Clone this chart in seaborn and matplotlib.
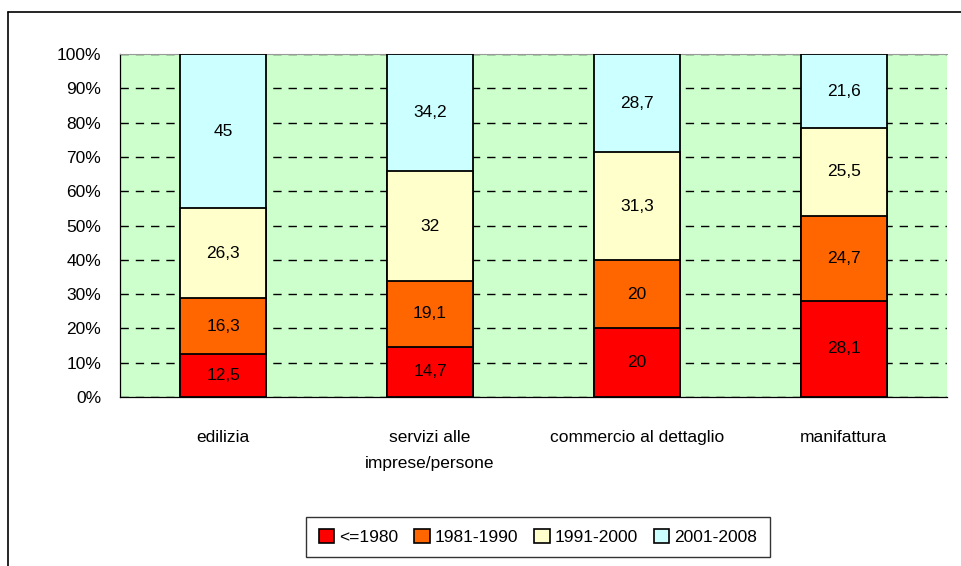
import numpy as np
import matplotlib
matplotlib.use("Agg")
import matplotlib.pyplot as plt
import seaborn as sns
import pandas as pd
from matplotlib.lines import Line2D
from matplotlib.patches import Patch

# Dati (quote per decennio di nascita dell'impresa)
settori = ["edilizia", "servizi alle\nimprese/persone", "commercio al dettaglio", "manifattura"]
periodi = ["<=1980", "1981-1990", "1991-2000", "2001-2008"]
v_1980 = [12.5, 14.7, 20, 28.1]
v_1990 = [16.3, 19.1, 20, 24.7]
v_2000 = [26.3, 32, 31.3, 25.5]
v_2008 = [45, 34.2, 28.7, 21.6]
colori = ["#FF0000", "#FF6600", "#FFFFCC", "#CCFFFF"]

sns.set_style("white")
plt.rcParams['font.family'] = ['Liberation Sans', 'DejaVu Sans']
plt.rcParams['text.color'] = 'black'
plt.rcParams['xtick.color'] = 'black'
plt.rcParams['ytick.color'] = 'black'

valori = np.array([v_1980, v_1990, v_2000, v_2008], dtype=float)
perc = valori / valori.sum(axis=0) * 100   # grafico in pila al 100%
cumul = perc.cumsum(axis=0)

fig = plt.figure(figsize=(9.62, 5.66), dpi=100)
ax = fig.add_axes([120 / 962, 1 - 397 / 566, 827 / 962, 343 / 566])
ax.set_facecolor("#CCFFCC")

# barre sovrapposte: dalla cumulata piu' alta alla piu' bassa
for i in range(len(periodi) - 1, -1, -1):
    df = pd.DataFrame({"settore": settori, "valore": cumul[i]})
    sns.barplot(data=df, x="settore", y="valore", color=colori[i],
                saturation=1, width=0.415, edgecolor="black", linewidth=1.3,
                ax=ax, zorder=3)

# etichette al centro dei segmenti
for i in range(len(periodi)):
    for j in range(len(settori)):
        base = cumul[i - 1][j] if i > 0 else 0
        testo = f"{valori[i][j]:g}".replace(".", ",")
        ax.text(j, base + perc[i][j] / 2, testo, ha="center", va="center",
                fontsize=12.5, color="black", zorder=5)

ax.set_xlim(-0.5, 3.5)
ax.set_ylim(0, 100)
ax.set_yticks(np.arange(0, 101, 10))
ax.set_yticklabels([f"{v}%" for v in range(0, 101, 10)], fontsize=12.5)
ax.yaxis.grid(True, color="black", linestyle=(0, (6, 5)), linewidth=1.0, zorder=1)
ax.set_axisbelow(True)
ax.set_xlabel("")
ax.set_ylabel("")

ax.set_xticks([0.5, 1.5, 2.5], minor=True)
ax.tick_params(axis="x", which="minor", length=6, color="black", width=0.8)
ax.tick_params(axis="x", which="major", length=0, pad=24, labelsize=12.5)
ax.tick_params(axis="y", length=6.5, color="black", width=0.8, pad=7)
for lab in ax.get_xticklabels():
    lab.set_linespacing(1.85)
    lab.set_verticalalignment("top")

for s in ["left", "bottom"]:
    ax.spines[s].set_color("black")
    ax.spines[s].set_linewidth(0.9)
ax.spines["top"].set_color("#999999")
ax.spines["right"].set_visible(False)

# legenda
maniglie = [Patch(facecolor=c, edgecolor="black", linewidth=1.2) for c in colori]
leg = fig.legend(maniglie, periodi, loc="center", ncol=4,
                 bbox_to_anchor=(538 / 962, 1 - 537 / 566), fontsize=12.5,
                 frameon=True, fancybox=False, edgecolor="black",
                 handlelength=0.9, handleheight=0.9, handletextpad=0.3,
                 columnspacing=0.9, borderpad=0.7)
leg.get_frame().set_linewidth(1.0)

# cornice dell'area del grafico
fig.add_artist(Line2D([8 / 962, 1], [1 - 12 / 566, 1 - 12 / 566], color="black", lw=1.2))
fig.add_artist(Line2D([8 / 962, 8 / 962], [0, 1 - 12 / 566], color="black", lw=1.2))

fig.savefig("out.png", dpi=100)
